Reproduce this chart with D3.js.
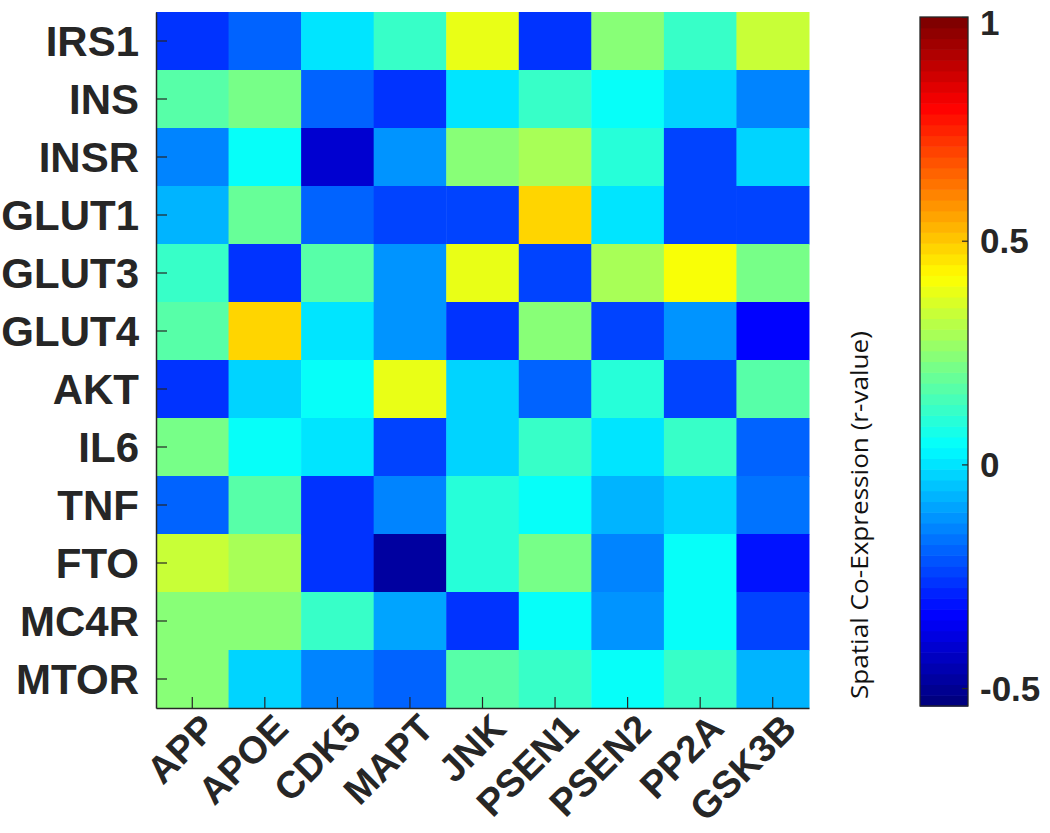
<!DOCTYPE html>
<html>
<head>
<meta charset="utf-8">
<script src="https://cdn.jsdelivr.net/npm/d3@7"></script>
<style>
  html, body { margin: 0; padding: 0; background: #ffffff; }
  svg { display: block; }
</style>
</head>
<body>
<div id="chart"></div>
<script>
// ---- data ----
const rowLabels = ["IRS1","INS","INSR","GLUT1","GLUT3","GLUT4","AKT","IL6","TNF","FTO","MC4R","MTOR"];
const colLabels = ["APP","APOE","CDK5","MAPT","JNK","PSEN1","PSEN2","PP2A","GSK3B"];
const vIRS1  = [-0.27, -0.19, -0.01,  0.11,  0.38, -0.27,  0.23,  0.11,  0.35];
const vINS   = [ 0.16,  0.21, -0.18, -0.27,  0.01,  0.12,  0.06, -0.03, -0.14];
const vINSR  = [-0.14,  0.04, -0.40, -0.12,  0.25,  0.28,  0.09, -0.25, -0.03];
const vGLUT1 = [-0.06,  0.19, -0.18, -0.25, -0.24,  0.49,  0.01, -0.25, -0.25];
const vGLUT3 = [ 0.11, -0.27,  0.18, -0.12,  0.38, -0.24,  0.30,  0.40,  0.21];
const vGLUT4 = [ 0.16,  0.48, -0.01, -0.13, -0.27,  0.23, -0.23, -0.11, -0.33];
const vAKT   = [-0.27, -0.02,  0.05,  0.38, -0.02, -0.19,  0.09, -0.25,  0.16];
const vIL6   = [ 0.22,  0.05, -0.01, -0.25, -0.02,  0.11, -0.01,  0.13, -0.19];
const vTNF   = [-0.18,  0.16, -0.27, -0.14,  0.09,  0.05, -0.07, -0.03, -0.17];
const vFTO   = [ 0.35,  0.28, -0.27, -0.49,  0.09,  0.22, -0.14,  0.05, -0.31];
const vMC4R  = [ 0.25,  0.25,  0.11, -0.09, -0.26,  0.05, -0.13,  0.05, -0.24];
const vMTOR  = [ 0.23, -0.03, -0.14, -0.18,  0.16,  0.12,  0.05,  0.12, -0.06];
const matrix = [vIRS1,vINS,vINSR,vGLUT1,vGLUT3,vGLUT4,vAKT,vIL6,vTNF,vFTO,vMC4R,vMTOR];
const colorTicks = [-0.5, 0, 0.5, 1];
const colorTickLabels = ["-0.5","0","0.5","1"];
const colorLimits = [-0.54, 1.0];
const colorbarTitle = "Spatial Co-Expression (r-value)";

// ---- jet colormap ----
function jet(t) {
  t = Math.max(0, Math.min(1, t));
  const r = Math.max(0, Math.min(1, Math.min(4*t - 1.5, -4*t + 4.5)));
  const g = Math.max(0, Math.min(1, Math.min(4*t - 0.5, -4*t + 3.5)));
  const b = Math.max(0, Math.min(1, Math.min(4*t + 0.5, -4*t + 2.5)));
  return d3.rgb(r*255, g*255, b*255).formatHex();
}
const nColors = 64;
const color = d3.scaleSequential(t => jet(Math.max(0, Math.min(nColors-1, Math.floor(t*nColors))) / (nColors-1)))
  .domain(colorLimits);

// ---- layout ----
const W = 1050, H = 833;
const plot = {left: 156, top: 12, right: 809, bottom: 708};
const cb = {left: 920, right: 968, top: 17, bottom: 706};
const axisColor = "#262626";

const svg = d3.select("#chart").append("svg").attr("width", W).attr("height", H)
  .style("font-family", "'Liberation Sans', Arial, sans-serif");

const x = d3.scaleBand().domain(colLabels).range([plot.left, plot.right]).padding(0);
const y = d3.scaleBand().domain(rowLabels).range([plot.top, plot.bottom]).padding(0);

// cells
const cells = [];
rowLabels.forEach((r, i) => colLabels.forEach((c, j) => cells.push({r, c, v: matrix[i][j]})));
svg.append("g").selectAll("rect").data(cells).join("rect")
  .attr("x", d => x(d.c)).attr("y", d => y(d.r))
  .attr("width", x.bandwidth() + 0.5).attr("height", y.bandwidth() + 0.5)
  .attr("fill", d => color(d.v));

// axes
const tickLen = 11;
const gx = svg.append("g").attr("transform", `translate(0,${plot.bottom})`)
  .call(d3.axisBottom(x).tickSize(-tickLen).tickSizeOuter(0).tickFormat(""));
const gy = svg.append("g").attr("transform", `translate(${plot.left},0)`)
  .call(d3.axisLeft(y).tickSize(-tickLen).tickSizeOuter(0).tickFormat(""));
[gx, gy].forEach(g => {
  g.select(".domain").attr("stroke", axisColor).attr("stroke-width", 1.5);
  g.selectAll(".tick line").attr("stroke", axisColor).attr("stroke-width", 1.2);
});

// y labels
svg.append("g").selectAll("text").data(rowLabels).join("text")
  .attr("x", plot.left - 17)
  .attr("y", d => y(d) + y.bandwidth()/2)
  .attr("dy", "0.36em")
  .attr("text-anchor", "end")
  .attr("font-size", 42).attr("font-weight", "bold").attr("fill", axisColor)
  .text(d => d);

// x labels rotated
svg.append("g").selectAll("text").data(colLabels).join("text")
  .attr("transform", d => `translate(${x(d) + x.bandwidth()/2 + 16},${plot.bottom + 13}) rotate(-45)`)
  .attr("dy", "0.36em")
  .attr("text-anchor", "end")
  .attr("font-size", 38).attr("font-weight", "bold").attr("fill", axisColor)
  .text(d => d);

// colorbar
const cy = d3.scaleLinear().domain(colorLimits).range([cb.bottom, cb.top]);
const bands = d3.range(nColors).map(k => colorLimits[0] + (k + 0.5) * (colorLimits[1]-colorLimits[0]) / nColors);
const bandH = (cb.bottom - cb.top) / nColors;
svg.append("g").selectAll("rect").data(bands).join("rect")
  .attr("x", cb.left).attr("width", cb.right - cb.left)
  .attr("y", d => cy(d) - bandH/2).attr("height", bandH + 0.6)
  .attr("fill", d => color(d));
svg.append("rect").attr("x", cb.left).attr("y", cb.top)
  .attr("width", cb.right - cb.left).attr("height", cb.bottom - cb.top)
  .attr("fill", "none").attr("stroke", axisColor).attr("stroke-width", 1.3);
const gc = svg.append("g").attr("transform", `translate(${cb.right},0)`)
  .call(d3.axisRight(cy).tickValues(colorTicks).tickSize(-6).tickFormat(""));
gc.select(".domain").remove();
gc.selectAll(".tick line").attr("stroke", axisColor).attr("stroke-width", 1.2);
svg.append("g").selectAll("text").data(colorTicks).join("text")
  .attr("x", cb.right + 12)
  .attr("y", d => Math.max(cy(d), 22))
  .attr("dy", "0.36em")
  .attr("font-size", 35).attr("font-weight", "bold").attr("fill", axisColor)
  .text((d, i) => colorTickLabels[i]);

// colorbar title
svg.append("text")
  .attr("transform", `translate(868,${515}) rotate(-90)`)
  .attr("text-anchor", "middle")
  .attr("font-family", "'Open Sans', sans-serif")
  .attr("font-size", 23).attr("fill", "#111")
  .attr("textLength", 368).attr("lengthAdjust", "spacingAndGlyphs")
  .text(colorbarTitle);
</script>
</body>
</html>
